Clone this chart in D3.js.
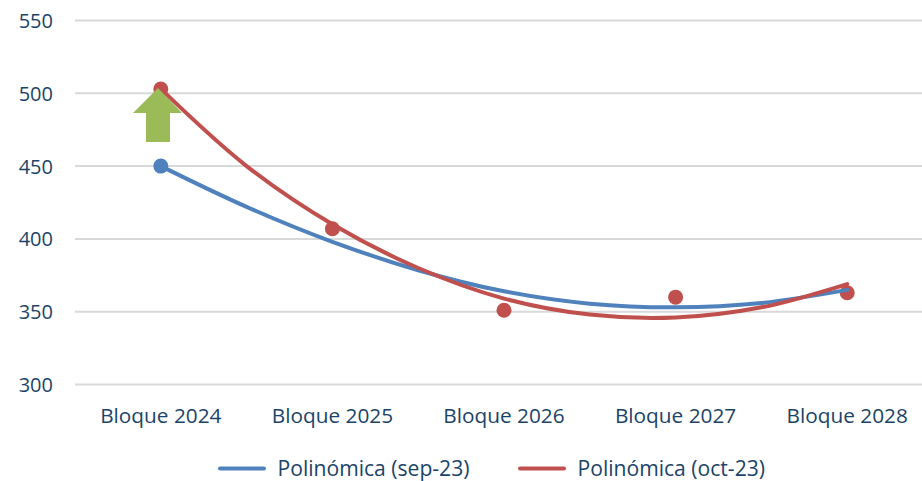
<!DOCTYPE html>
<html><head><meta charset="utf-8">
<script src="https://cdn.jsdelivr.net/npm/d3@7"></script>
<style>html,body{margin:0;padding:0;background:#fff}svg{display:block}text{font-family:"Open Sans",sans-serif;fill:#1b4468}</style>
</head><body><svg id="c" width="922" height="481"></svg>
<script>
const categories=["Bloque 2024","Bloque 2025","Bloque 2026","Bloque 2027","Bloque 2028"];
const yTicks=[300,350,400,450,500,550];
const trendPos=[0,0.5,1,1.5,2,2.5,3,3.5,4];
const sepTrend=[450,422,398,378.5,364,355.5,353,356,365];
const octTrend=[503,450,410,380,359,348,346,353,369];
const sepPoints=[450];
const octPoints=[503,407,351,360,363];
const legendLabels=["Polinómica (sep-23)","Polinómica (oct-23)"];
const blue="#4f81bd",red="#c0504d",green="#9bbb59";

const svg=d3.select("#c");
const x=d3.scaleBand().domain(categories).range([75,933]);
const idx=d3.scaleLinear().domain([0,4]).range([x(categories[0])+x.bandwidth()/2,x(categories[4])+x.bandwidth()/2]);
const y=d3.scaleLinear().domain([300,550]).range([384.5,20.5]);

svg.append("g").selectAll("line").data(yTicks).join("line")
 .attr("x1",75).attr("x2",922).attr("y1",d=>y(d)).attr("y2",d=>y(d))
 .attr("stroke","#d9d9d9").attr("stroke-width",2);
svg.append("g").selectAll("text").data(yTicks).join("text")
 .attr("x",53).attr("y",d=>y(d)+7.5).attr("text-anchor","end").attr("font-size",20).text(d=>d);
svg.append("g").selectAll("text").data(categories).join("text")
 .attr("x",d=>x(d)+x.bandwidth()/2).attr("y",423).attr("text-anchor","middle").attr("font-size",20.8).text(d=>d);

const line=d3.line().x((d,i)=>idx(trendPos[i])).y(d=>y(d)).curve(d3.curveCatmullRom.alpha(0.5));
svg.append("g").selectAll("circle").data(sepPoints).join("circle")
 .attr("cx",(d,i)=>idx(i)).attr("cy",d=>y(d)).attr("r",7.5).attr("fill",blue);
svg.append("g").selectAll("circle").data(octPoints).join("circle")
 .attr("cx",(d,i)=>idx(i)).attr("cy",d=>y(d)).attr("r",7.5).attr("fill",red);
svg.append("path").datum(sepTrend).attr("d",line).attr("fill","none").attr("stroke",blue).attr("stroke-width",4).attr("stroke-linecap","round");
svg.append("path").datum(octTrend).attr("d",line).attr("fill","none").attr("stroke",red).attr("stroke-width",4).attr("stroke-linecap","round");

svg.append("path").attr("d","M158 88L182 113L170 113L170 142L146 142L146 113L133 113Z").attr("fill",green);

const lg=svg.append("g").selectAll("g").data(legendLabels).join("g")
 .attr("transform",(d,i)=>`translate(${i?519:219},0)`);
lg.append("line").attr("x1",1).attr("x2",45).attr("y1",468.5).attr("y2",468.5)
 .attr("stroke",(d,i)=>i?red:blue).attr("stroke-width",4).attr("stroke-linecap","round");
lg.append("text").attr("x",58.5).attr("y",476).attr("font-size",21.1).text(d=>d);
</script></body></html>
